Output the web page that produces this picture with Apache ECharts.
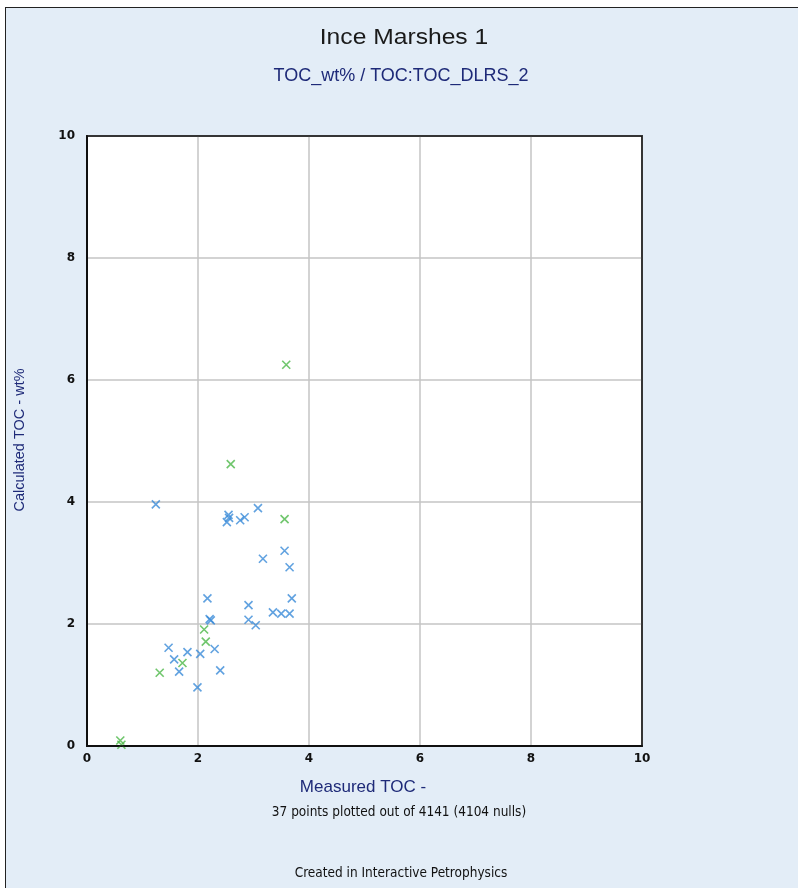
<!DOCTYPE html>
<html><head><meta charset="utf-8">
<script src="https://cdn.jsdelivr.net/npm/echarts@6/dist/echarts.min.js"></script>
<style>
html,body{margin:0;padding:0;background:#fff;width:798px;height:888px;overflow:hidden;}
#frame{position:absolute;left:5px;top:7px;width:800px;height:890px;border:1px solid #222;background:#e3edf7;}
#c{position:absolute;left:0;top:0;width:798px;height:888px;}
</style></head><body>
<div id="frame"></div>
<div id="c"></div>
<script>
const titleText = 'Ince Marshes 1';
const subtitleText = 'TOC_wt% / TOC:TOC_DLRS_2';
const xAxisName = 'Measured TOC -';
const yAxisName = 'Calculated TOC - wt%';
const noteText = '37 points plotted out of 4141 (4104 nulls)';
const footerText = 'Created in Interactive Petrophysics';
const xTicks = [0, 2, 4, 6, 8, 10];
const yTicks = [0, 2, 4, 6, 8, 10];

const bluePoints = [
  [1.24,3.96],
  [2.55,3.79],[2.52,3.67],[2.56,3.74],[2.76,3.70],[2.84,3.75],[3.08,3.90],
  [3.56,3.20],[3.17,3.07],[3.65,2.93],
  [2.17,2.42],[3.69,2.42],[2.91,2.31],
  [3.35,2.19],[3.50,2.17],[3.65,2.17],
  [2.21,2.08],[2.23,2.06],[2.91,2.07],[3.04,1.98],
  [1.47,1.61],[1.81,1.54],[2.04,1.51],[2.30,1.59],[1.57,1.42],[1.66,1.22],[2.40,1.24],[1.99,0.96]
];
const greenPoints = [
  [3.59,6.25],[2.59,4.62],[3.56,3.72],[2.11,1.91],[2.14,1.71],[1.72,1.36],[1.31,1.20],[0.60,0.09],[0.62,0.02]
];

const cross = 'path://M0,0L10,10M10,0L0,10';
const tickFont = 'Tahoma, "DejaVu Sans", sans-serif';
const sans = '"Liberation Sans", Arial, sans-serif';
const cond = '"DejaVu Sans Condensed", "Liberation Sans", sans-serif';
function txt(text, x, y, size, color, family, sx) {
  return {type:'text', x:x, y:y, scaleX:sx||1, z:100,
    style:{text:text, fill:color, font:size+'px '+family, textAlign:'center', textVerticalAlign:'middle'}};
}
const chart = echarts.init(document.getElementById('c'));
chart.setOption({
  animation:false,
  backgroundColor:'transparent',
  graphic:[
    txt(titleText, 404, 38, 22, '#1a1a1a', sans, 1.12),
    txt(subtitleText, 401, 76, 18, '#1e2a78', sans),
    txt(xAxisName, 363, 787, 17, '#1e2a78', sans),
    txt(noteText, 399, 812, 13.5, '#111', cond),
    txt(footerText, 401, 873, 13.5, '#111', cond),
    {type:'text', x:20, y:440, rotation:Math.PI/2, z:100,
      style:{text:yAxisName, fill:'#1e2a78', font:'14.5px '+sans, textAlign:'center', textVerticalAlign:'middle'}},
    {type:'rect', z:100, silent:true, shape:{x:87, y:136, width:555, height:610},
      style:{fill:'none', stroke:'#111', lineWidth:1.5}}
  ],
  grid:{left:87,right:156,top:136,bottom:142,show:true,backgroundColor:'#fff',borderColor:'#111',borderWidth:1.5},
  xAxis:{type:'value',min:xTicks[0],max:xTicks[xTicks.length-1],interval:2,
    axisLine:{show:true,lineStyle:{color:'#111',width:2}},axisTick:{show:false},
    axisLabel:{color:'#111',fontSize:12,fontWeight:'bold',fontFamily:tickFont,margin:7},
    splitLine:{lineStyle:{color:'#c4c4c4',width:1.5}}},
  yAxis:{type:'value',min:yTicks[0],max:yTicks[yTicks.length-1],interval:2,
    axisLine:{show:true,lineStyle:{color:'#111',width:2}},axisTick:{show:false},
    axisLabel:{color:'#111',fontSize:12,fontWeight:'bold',fontFamily:tickFont,margin:12},
    splitLine:{lineStyle:{color:'#c4c4c4',width:1.5}}},
  series:[
    {type:'scatter',data:bluePoints,symbol:cross,symbolSize:8,
      itemStyle:{color:'rgba(0,0,0,0)',borderColor:'#3a8bd8',borderWidth:1.6}},
    {type:'scatter',data:greenPoints,symbol:cross,symbolSize:8,
      itemStyle:{color:'rgba(0,0,0,0)',borderColor:'#4cb848',borderWidth:1.6}}
  ]
});
</script></body></html>
